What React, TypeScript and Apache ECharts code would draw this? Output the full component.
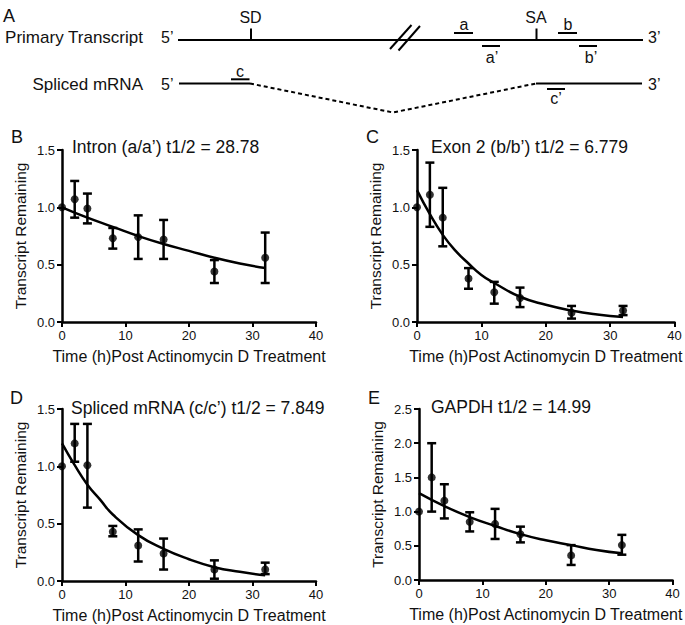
import React, { useEffect, useRef } from "react";
import * as echarts from "echarts";

// ---- data ----
const times = [0, 2, 4, 8, 12, 16, 24, 32];

const intronMean = [1.0, 1.07, 0.99, 0.73, 0.74, 0.72, 0.44, 0.56];
const intronLow = [null, 0.91, 0.86, 0.64, 0.55, 0.55, 0.34, 0.34];
const intronHigh = [null, 1.23, 1.12, 0.82, 0.93, 0.89, 0.54, 0.78];
const intronFitT = [0, 4, 8, 12, 16, 20, 24, 28, 32];
const intronFitY = [1.0, 0.91, 0.83, 0.75, 0.68, 0.62, 0.56, 0.51, 0.47];

const exonMean = [1.0, 1.11, 0.91, 0.38, 0.26, 0.21, 0.08, 0.1];
const exonLow = [null, 0.83, 0.66, 0.29, 0.16, 0.13, 0.03, 0.06];
const exonHigh = [null, 1.39, 1.17, 0.47, 0.35, 0.3, 0.14, 0.14];
const exonFitT = [0, 2, 4, 6, 8, 10, 12, 16, 20, 24, 28, 32];
const exonFitY = [1.15, 0.94, 0.76, 0.62, 0.51, 0.41, 0.34, 0.22, 0.15, 0.1, 0.066, 0.044];

const splicedMean = [1.0, 1.2, 1.01, 0.43, 0.31, 0.24, 0.1, 0.1];
const splicedLow = [null, 1.04, 0.64, 0.39, 0.17, 0.1, 0.02, 0.06];
const splicedHigh = [null, 1.37, 1.37, 0.48, 0.45, 0.37, 0.18, 0.16];
const splicedFitT = [0, 2, 4, 6, 8, 12, 16, 20, 24, 28, 32];
const splicedFitY = [1.2, 1.01, 0.84, 0.71, 0.58, 0.4, 0.28, 0.19, 0.12, 0.08, 0.05];

const gapdhMean = [1.0, 1.5, 1.16, 0.85, 0.82, 0.67, 0.36, 0.51];
const gapdhLow = [null, 1.0, 0.9, 0.71, 0.6, 0.55, 0.22, 0.37];
const gapdhHigh = [null, 2.0, 1.4, 0.99, 1.04, 0.78, 0.51, 0.66];
const gapdhFitT = [0, 4, 8, 12, 16, 20, 24, 28, 32];
const gapdhFitY = [1.27, 1.08, 0.92, 0.79, 0.67, 0.58, 0.51, 0.44, 0.39];

const panelTitles = [
  "Intron (a/a\u2019) t1/2 = 28.78",
  "Exon 2 (b/b\u2019) t1/2 = 6.779",
  "Spliced mRNA (c/c\u2019) t1/2 = 7.849",
  "GAPDH t1/2 = 14.99",
];
const panelLetters = ["B", "C", "D", "E"];
const yMaxes = [1.5, 1.5, 1.5, 2.5];
const xTitle = "Time (h)Post Actinomycin D Treatment";
const yTitle = "Transcript Remaining";

const FONT = "'Liberation Sans', Arial, Helvetica, sans-serif";
const INK = "#111";

export default function App() {
  const ref = useRef<HTMLDivElement>(null);

  useEffect(() => {
    if (!ref.current) return;
    const chart = echarts.init(ref.current, null, { renderer: "svg" });

    const panels = [
      { mean: intronMean, low: intronLow, high: intronHigh, fitT: intronFitT, fitY: intronFitY },
      { mean: exonMean, low: exonLow, high: exonHigh, fitT: exonFitT, fitY: exonFitY },
      { mean: splicedMean, low: splicedLow, high: splicedHigh, fitT: splicedFitT, fitY: splicedFitY },
      { mean: gapdhMean, low: gapdhLow, high: gapdhHigh, fitT: gapdhFitT, fitY: gapdhFitY },
    ];

    const grids = [
      { left: 62, top: 150, width: 254, height: 172 },
      { left: 417, top: 150, width: 261, height: 172 },
      { left: 62, top: 409, width: 254, height: 172 },
      { left: 419, top: 409, width: 261, height: 171 },
    ];

    const axisLine = { show: true, onZero: false, lineStyle: { color: "#000", width: 2.5 } };
    const axisTick = { show: true, length: 5, lineStyle: { color: "#000", width: 2 } };

    const xAxes = grids.map((_, i) => ({
      type: "value",
      gridIndex: i,
      min: 0,
      max: 40,
      interval: 10,
      name: xTitle,
      nameLocation: "middle",
      nameGap: 26,
      nameTextStyle: { fontSize: 16, color: INK, fontFamily: FONT },
      axisLine,
      axisTick,
      axisLabel: { fontSize: 13, color: INK, fontFamily: FONT, margin: 7 },
      splitLine: { show: false },
    }));

    const yAxes = grids.map((_, i) => ({
      type: "value",
      gridIndex: i,
      min: 0,
      max: yMaxes[i],
      interval: 0.5,
      name: yTitle,
      nameLocation: "middle",
      nameGap: 34,
      nameTextStyle: { fontSize: 15.5, color: INK, fontFamily: FONT },
      axisLine,
      axisTick,
      axisLabel: {
        fontSize: 13,
        color: INK,
        fontFamily: FONT,
        margin: 7,
        formatter: (v: number) => v.toFixed(1),
      },
      splitLine: { show: false },
    }));

    const series: any[] = [];
    panels.forEach((p, i) => {
      series.push({
        type: "line",
        xAxisIndex: i,
        yAxisIndex: i,
        data: p.fitT.map((t, k) => [t, p.fitY[k]]),
        smooth: true,
        showSymbol: false,
        lineStyle: { color: "#000", width: 2.5 },
        z: 2,
      });
      const errData = times
        .map((t, k) => [t, p.low[k], p.high[k]])
        .filter((d) => d[1] !== null && d[2] !== null);
      series.push({
        type: "custom",
        xAxisIndex: i,
        yAxisIndex: i,
        data: errData,
        clip: false,
        z: 3,
        renderItem: (params: any, api: any) => {
          const x = api.value(0);
          const top = api.coord([x, api.value(2)]);
          const bot = api.coord([x, api.value(1)]);
          const h = 4.5;
          const style = { stroke: "#000", lineWidth: 2.5 };
          return {
            type: "group",
            children: [
              { type: "line", shape: { x1: top[0], y1: top[1], x2: bot[0], y2: bot[1] }, style },
              { type: "line", shape: { x1: top[0] - h, y1: top[1], x2: top[0] + h, y2: top[1] }, style },
              { type: "line", shape: { x1: bot[0] - h, y1: bot[1], x2: bot[0] + h, y2: bot[1] }, style },
            ],
          };
        },
      });
      series.push({
        type: "scatter",
        xAxisIndex: i,
        yAxisIndex: i,
        data: times.map((t, k) => [t, p.mean[k]]),
        symbol: "circle",
        symbolSize: 8,
        itemStyle: { color: "#000" },
        clip: false,
        z: 4,
      });
    });

    const txt = (text: string, x: number, y: number, size: number, align = "left", vAlign = "middle") => ({
      type: "text",
      x,
      y,
      silent: true,
      style: {
        text,
        fill: INK,
        fontSize: size,
        fontFamily: FONT,
        align,
        verticalAlign: vAlign,
      },
    });
    const ln = (x1: number, y1: number, x2: number, y2: number, w = 2) => ({
      type: "line",
      silent: true,
      shape: { x1, y1, x2, y2 },
      style: { stroke: "#000", lineWidth: w },
    });

    const titleGraphics = [
      txt(panelTitles[0], 72, 147, 17.5),
      txt(panelTitles[1], 431, 147, 17.5),
      txt(panelTitles[2], 71, 408, 17.5),
      txt(panelTitles[3], 431, 407, 17.5),
      txt(panelLetters[0], 11, 137, 18),
      txt(panelLetters[1], 366, 137, 18),
      txt(panelLetters[2], 10, 398, 18),
      txt(panelLetters[3], 368, 398, 18),
    ];

    const diagram = [
      txt("A", 3, 15.5, 18),
      txt("Primary Transcript", 143, 37.5, 17, "right"),
      txt("5\u2019", 161, 37.5, 16),
      ln(178, 40, 643, 40),
      ln(251, 28.5, 251, 40),
      txt("SD", 250.5, 17, 16, "center"),
      ln(390, 49, 411.5, 25),
      ln(398.5, 50.5, 420, 26),
      txt("a", 464, 24.5, 16, "center"),
      ln(454, 33, 473, 33),
      ln(482, 46, 500, 46),
      txt("a\u2019", 492, 57.5, 16, "center"),
      ln(536.5, 28.5, 536.5, 40),
      txt("SA", 536, 17, 16, "center"),
      txt("b", 568, 24.5, 16, "center"),
      ln(558, 33, 577, 33),
      ln(579, 46, 597, 46),
      txt("b\u2019", 591, 57.5, 16, "center"),
      txt("3\u2019", 648, 37.5, 16),
      txt("Spliced mRNA", 143, 84, 17, "right"),
      txt("5\u2019", 161, 84, 16),
      ln(179, 83.5, 250, 83.5),
      txt("c", 240, 71.5, 16, "center"),
      ln(231, 79.3, 249.5, 79.3),
      {
        type: "polyline",
        silent: true,
        shape: { points: [[250, 83.5], [393, 112.5], [536, 83.5]] },
        style: { stroke: "#000", lineWidth: 2, lineDash: [4, 3], fill: null },
      },
      ln(536, 83.5, 642, 83.5),
      ln(547, 89, 565, 89),
      txt("c\u2019", 556, 98.5, 16, "center"),
      txt("3\u2019", 648, 84, 16),
    ];

    chart.setOption({
      animation: false,
      backgroundColor: "#fff",
      grid: grids.map((g) => ({ ...g, containLabel: false })),
      xAxis: xAxes,
      yAxis: yAxes,
      series,
      graphic: [...diagram, ...titleGraphics],
    } as any);

    return () => chart.dispose();
  }, []);

  return (
    <div
      ref={ref}
      style={{ position: "absolute", left: 0, top: 0, width: 685, height: 625 }}
    />
  );
}
